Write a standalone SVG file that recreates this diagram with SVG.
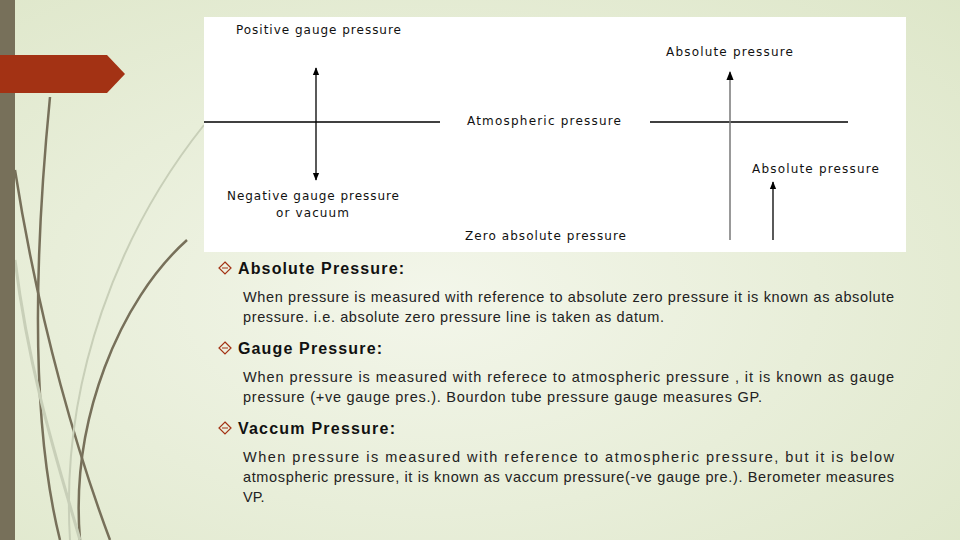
<svg xmlns="http://www.w3.org/2000/svg" width="960" height="540" viewBox="0 0 960 540">
<defs>
<radialGradient id="bg" cx="0.45" cy="0.55" r="0.8"><stop offset="0" stop-color="#f3f6ea"/><stop offset="1" stop-color="#dde6c8"/></radialGradient>
<marker id="ah" viewBox="0 0 10 10" refX="9" refY="5" markerWidth="6" markerHeight="7" orient="auto-start-reverse"><path d="M0,1 L10,5 L0,9 z" fill="#000"/></marker>
<marker id="ahg" viewBox="0 0 10 10" refX="9" refY="5" markerWidth="6" markerHeight="7" orient="auto"><path d="M0,1 L10,5 L0,9 z" fill="#000"/></marker>
<style>
.d{font-family:"DejaVu Sans",sans-serif;font-size:12px;fill:#111}
.h{font-family:"Liberation Sans",Arial,sans-serif;font-size:16px;font-weight:bold;fill:#111}
.b{font-family:"Liberation Sans",Arial,sans-serif;font-size:14.5px;fill:#222}
.ln{stroke:#000;stroke-width:1.3;fill:none}
.st{fill:none;stroke:#77705a;stroke-width:2.5}
.bu{fill:none;stroke:#a33214;stroke-width:1.2}
</style>
</defs>
<rect width="960" height="540" fill="url(#bg)"/>
<g id="decor">
<path d="M15,170 C40,330 80,460 110,540" class="st"/>
<path d="M50,97 C35,250 30,420 60,540" class="st" stroke-width="2"/>
<path d="M187,240 C120,300 70,420 80,540" class="st" stroke-width="2"/>
<path d="M204,125 C120,230 60,380 70,540" fill="none" stroke="#c8cfb8" stroke-width="2"/>
<path d="M15,260 C30,380 60,470 80,540" fill="none" stroke="#c8cfb8" stroke-width="3"/>
</g>
<rect x="0" y="0" width="15" height="540" fill="#77705a"/>
<polygon points="0,55 107,55 125,74 107,93 0,93" fill="#a33214"/>
<rect x="204" y="17" width="702" height="235" fill="#fff"/>
<g id="connectors">
<line x1="204" y1="122" x2="440" y2="122" class="ln"/>
<line x1="650" y1="122" x2="848" y2="122" class="ln"/>
<line x1="316" y1="68" x2="316" y2="180" class="ln" marker-start="url(#ah)" marker-end="url(#ah)"/>
<line x1="730" y1="240" x2="730" y2="72" stroke="#777" stroke-width="1.5" marker-end="url(#ahg)"/>
<line x1="773" y1="240" x2="773" y2="182" class="ln" marker-end="url(#ahg)"/>
</g>
<g id="labels">
<text class="d" x="236" y="34" textLength="165">Positive gauge pressure</text>
<text class="d" x="666" y="56" textLength="127">Absolute pressure</text>
<text class="d" x="467" y="125" textLength="154">Atmospheric pressure</text>
<text class="d" x="752" y="173" textLength="127">Absolute pressure</text>
<text class="d" x="227" y="200" textLength="172">Negative gauge pressure</text>
<text class="d" x="276" y="217" textLength="73">or vacuum</text>
<text class="d" x="465" y="240" textLength="161">Zero absolute pressure</text>
</g>
<g id="text">
<path class="bu" d="M225,262 L231,268 L225,274 L219,268 Z M222,268 L228,268"/>
<path class="bu" d="M225,342 L231,348 L225,354 L219,348 Z M222,348 L228,348"/>
<path class="bu" d="M225,422 L231,428 L225,434 L219,428 Z M222,428 L228,428"/>
<text class="h" x="238" y="274" textLength="166">Absolute Pressure:</text>
<text class="b" x="243" y="302" textLength="651" lengthAdjust="spacing">When pressure is measured with reference to absolute zero pressure it is known as absolute</text>
<text class="b" x="243" y="322" textLength="421">pressure. i.e. absolute zero pressure line is taken as datum.</text>
<text class="h" x="238" y="354" textLength="144">Gauge Pressure:</text>
<text class="b" x="243" y="382" textLength="651" lengthAdjust="spacing">When pressure is measured with referece to atmospheric pressure , it is known as gauge</text>
<text class="b" x="243" y="402" textLength="519">pressure (+ve gauge pres.). Bourdon tube pressure gauge measures GP.</text>
<text class="h" x="238" y="434" textLength="157">Vaccum Pressure:</text>
<text class="b" x="243" y="462" textLength="651" lengthAdjust="spacing">When pressure is measured with reference to atmospheric pressure, but it is below</text>
<text class="b" x="243" y="482" textLength="651" lengthAdjust="spacing">atmospheric pressure, it is known as vaccum pressure(-ve gauge pre.). Berometer measures</text>
<text class="b" x="243" y="502">VP.</text>
</g>
</svg>
